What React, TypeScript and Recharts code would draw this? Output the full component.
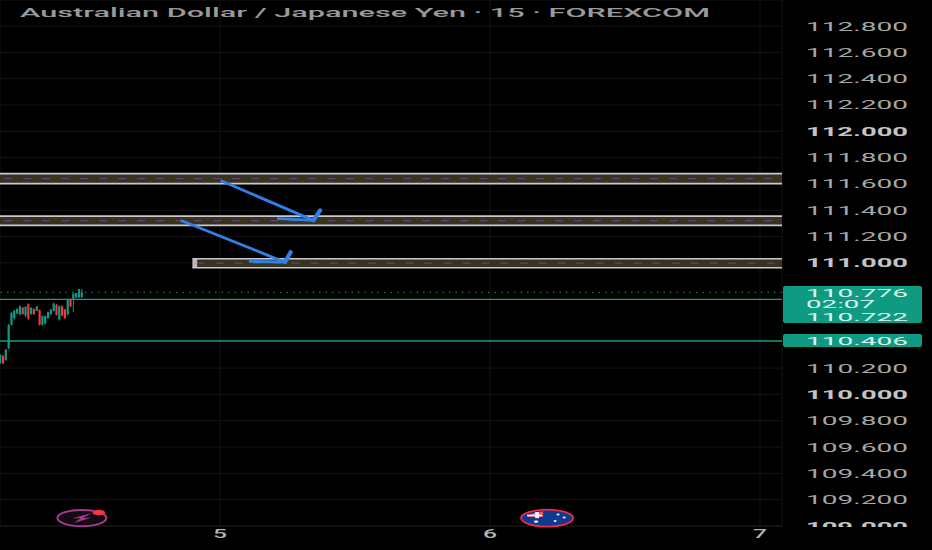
import {
  Bar,
  CartesianGrid,
  ComposedChart,
  ReferenceArea,
  ReferenceDot,
  ReferenceLine,
  XAxis,
  YAxis,
} from "recharts";

// 15 min bars, one day = 96 bars, bar 96 = start of day 5
const barIndex = [18, 19, 20, 21, 22, 23, 24, 25, 26, 27, 28, 29, 30, 31, 32, 33, 34, 35, 36, 37, 38, 39, 40, 41, 42, 43, 44, 45, 46, 47];
const opens = [110.24, 110.295, 110.26, 110.35, 110.53, 110.58, 110.615, 110.61, 110.66, 110.6, 110.685, 110.61, 110.65, 110.635, 110.64, 110.53, 110.54, 110.58, 110.61, 110.635, 110.68, 110.57, 110.67, 110.645, 110.61, 110.725, 110.728, 110.738, 110.738, 110.74];
const closes = [110.3, 110.235, 110.34, 110.53, 110.62, 110.635, 110.65, 110.67, 110.61, 110.665, 110.575, 110.66, 110.61, 110.668, 110.53, 110.595, 110.595, 110.625, 110.645, 110.69, 110.605, 110.67, 110.6, 110.58, 110.72, 110.67, 110.766, 110.77, 110.8, 110.776];
const highs = [110.308, 110.298, 110.346, 110.536, 110.625, 110.643, 110.655, 110.676, 110.663, 110.671, 110.693, 110.663, 110.653, 110.671, 110.645, 110.6, 110.6, 110.63, 110.65, 110.696, 110.688, 110.676, 110.676, 110.65, 110.726, 110.731, 110.769, 110.772, 110.802, 110.802];
const lows = [110.232, 110.232, 110.257, 110.346, 110.523, 110.569, 110.612, 110.6, 110.607, 110.587, 110.567, 110.607, 110.607, 110.632, 110.523, 110.523, 110.531, 110.574, 110.607, 110.63, 110.6, 110.561, 110.592, 110.572, 110.6, 110.663, 110.625, 110.734, 110.734, 110.734];

// 110.400, 110.600 and 110.800 sit behind the price tags
const priceTicks = [109, 109.2, 109.4, 109.6, 109.8, 110, 110.2, 111, 111.2, 111.4, 111.6, 111.8, 112, 112.2, 112.4, 112.6, 112.8];
const dayTicks = [96, 192, 288];
const dayLabels = ["5", "6", "7"];

const zoneTops = [111.678, 111.355, 111.031];
const zoneBottoms = [111.602, 111.285, 110.963];
const zoneMids = [111.64, 111.32, 110.998];
const zoneStarts = [17.78, 17.78, 86.2];

// arrow strokes: [from bar, from price, to bar, to price]
const arrowSegments = [
  [96.6, 111.622, 129.2, 111.323],
  [116.7, 111.336, 129.2, 111.323],
  [129.2, 111.323, 131.6, 111.399],
  [82.4, 111.32, 119.1, 111.005],
  [106.7, 111.011, 119.1, 111.005],
  [119.1, 111.005, 121.1, 111.081],
];

const lastPrice = 110.776;
const levelPrices = [110.722, 110.406];

const rows = barIndex.map((bar, i) => ({
  bar,
  open: opens[i],
  close: closes[i],
  high: highs[i],
  low: lows[i],
  range: [lows[i], highs[i]],
}));

const GREEN = "#0f9b82";
const RED = "#f23645";
const WIDE = "Roboto, sans-serif";
const xMin = 17.78;
const xMax = 295.82;

function Candle(props: any) {
  const { x, y, width, height, payload } = props;
  const { open, close, high, low } = payload;
  const perUnit = height / (high - low);
  const top = y + (high - Math.max(open, close)) * perUnit;
  const bodyH = Math.max(1, Math.abs(open - close) * perUnit);
  const color = close >= open ? GREEN : RED;
  const mid = x + width / 2;
  return (
    <g>
      <rect x={mid - 0.5} y={y} width={1} height={height} fill={color} />
      <rect x={mid - 1.1} y={top} width={2.2} height={bodyH} fill={color} />
    </g>
  );
}

function PriceTick(props: any) {
  const { y, payload } = props;
  const major = Number.isInteger(payload.value);
  return (
    <text
      x={857}
      y={y + 4.5}
      textAnchor="middle"
      textLength={102}
      lengthAdjust="spacingAndGlyphs"
      fontFamily={WIDE}
      fontSize={13}
      fontWeight={major ? 700 : 400}
      fill={major ? "#c4c4c4" : "#a6a6a6"}
      clipPath="url(#axisClip)"
    >
      {payload.value.toFixed(3)}
    </text>
  );
}

function DayTick(props: any) {
  const { x, y, payload } = props;
  return (
    <text
      x={x}
      y={y + 4}
      textAnchor="middle"
      textLength={14}
      lengthAdjust="spacingAndGlyphs"
      fontFamily={WIDE}
      fontSize={12}
      fontWeight={500}
      fill="#b4b4b4"
    >
      {dayLabels[dayTicks.indexOf(payload.value)]}
    </text>
  );
}

function TagText({ y, children, wide = 102, size = 11 }: any) {
  return (
    <text
      x={806}
      y={y}
      textLength={wide}
      lengthAdjust="spacingAndGlyphs"
      fontFamily={WIDE}
      fontSize={size}
      fill="#dff3ee"
    >
      {children}
    </text>
  );
}

function LastTag() {
  return (
    <g>
      <rect x={783} y={286} width={139} height={37} rx={2} fill={GREEN} />
      <TagText y={296.5}>110.776</TagText>
      <TagText y={307.5} wide={69} size={10}>02:07</TagText>
      <TagText y={321}>110.722</TagText>
    </g>
  );
}

function LevelTag() {
  return (
    <g>
      <rect x={783} y={334} width={139} height={13} rx={2} fill={GREEN} />
      <TagText y={344.5}>110.406</TagText>
    </g>
  );
}

function BoltIcon(props: any) {
  const { cx, cy } = props;
  return (
    <g>
      <ellipse cx={cx} cy={cy} rx={24.5} ry={8.2} fill="#140a14" stroke="#a83a8c" strokeWidth={2} />
      <path
        d={`M${cx + 10} ${cy - 5} L${cx - 10} ${cy + 0.5} L${cx - 1} ${cy} L${cx - 8} ${cy + 5} L${cx + 10} ${cy - 0.5} L${cx + 1} ${cy} Z`}
        fill="#a83a8c"
      />
      <ellipse cx={cx + 17} cy={cy - 5.5} rx={6.5} ry={2.8} fill={RED} />
    </g>
  );
}

function FlagIcon(props: any) {
  const { cx, cy } = props;
  return (
    <g>
      <ellipse cx={cx} cy={cy} rx={26} ry={8.5} fill="#0d3a8f" stroke="#f0284a" strokeWidth={1.8} />
      <path
        d={`M${cx - 20} ${cy - 1} Q${cx - 16} ${cy - 6} ${cx - 4} ${cy - 6.5} L${cx - 4} ${cy - 1} Z`}
        fill="#d9566c"
      />
      <rect x={cx - 12} y={cy - 6} width={4} height={6} fill="#f4f4f4" />
      <rect x={cx - 20} y={cy - 3.5} width={15} height={1.6} fill="#f4f4f4" />
      <ellipse cx={cx - 11} cy={cy + 3.5} rx={2.2} ry={1.2} fill="#ffffff" />
      <ellipse cx={cx + 8} cy={cy + 3} rx={1.6} ry={1} fill="#dfe8ff" />
      <ellipse cx={cx + 11} cy={cy - 3.5} rx={1.6} ry={1} fill="#dfe8ff" />
      <ellipse cx={cx + 17} cy={cy - 0.5} rx={1.6} ry={1} fill="#dfe8ff" />
    </g>
  );
}

export default function App() {
  return (
    <div style={{ position: "absolute", left: 0, top: 0, width: 932, height: 550, background: "#000" }}>
      <ComposedChart
        width={932}
        height={550}
        data={rows}
        margin={{ top: 0, right: 0, bottom: 0, left: 0 }}
      >
        <defs>
          <clipPath id="axisClip">
            <rect x={782} y={0} width={150} height={527} />
          </clipPath>
        </defs>
        <CartesianGrid stroke="#141414" />
        <XAxis
          dataKey="bar"
          type="number"
          domain={[xMin, xMax]}
          allowDataOverflow
          ticks={dayTicks}
          tick={<DayTick />}
          tickLine={false}
          axisLine={{ stroke: "#1c1c1c" }}
          height={24}
        />
        <YAxis
          orientation="right"
          type="number"
          domain={[109, 112.9976]}
          allowDataOverflow
          ticks={priceTicks}
          tick={<PriceTick />}
          tickLine={false}
          axisLine={false}
          interval={0}
          width={150}
        />

        {zoneTops.map((top, i) => (
          <ReferenceArea
            key={`zone${i}`}
            x1={zoneStarts[i]}
            x2={xMax}
            y1={zoneBottoms[i]}
            y2={top}
            fill="#38331f"
            fillOpacity={1}
            stroke="none"
          />
        ))}
        {zoneTops.map((top, i) => (
          <ReferenceLine
            key={`top${i}`}
            segment={[{ x: zoneStarts[i], y: top }, { x: xMax, y: top }]}
            stroke="#c9c9c9"
            strokeWidth={1.6}
          />
        ))}
        {zoneBottoms.map((bottom, i) => (
          <ReferenceLine
            key={`bottom${i}`}
            segment={[{ x: zoneStarts[i], y: bottom }, { x: xMax, y: bottom }]}
            stroke="#c9c9c9"
            strokeWidth={1.6}
          />
        ))}
        {zoneMids.map((mid, i) => (
          <ReferenceLine
            key={`mid${i}`}
            segment={[{ x: zoneStarts[i] + 1.5, y: mid }, { x: xMax, y: mid }]}
            stroke="#74408f"
            strokeWidth={1}
            strokeDasharray="8 11"
          />
        ))}
        <ReferenceArea x1={86.2} x2={87.9} y1={110.963} y2={111.031} fill="#b9b9b9" fillOpacity={1} stroke="none" />

        <ReferenceLine y={lastPrice} stroke={GREEN} strokeWidth={1} strokeDasharray="1.5 5" label={<LastTag />} />
        <ReferenceLine y={levelPrices[0]} stroke="#1b9c88" strokeWidth={1.4} />
        <ReferenceLine y={levelPrices[1]} stroke="#1b9c88" strokeWidth={1.4} label={<LevelTag />} />

        {arrowSegments.map(([x1, y1, x2, y2], i) => (
          <ReferenceLine
            key={`arrow${i}`}
            segment={[{ x: x1, y: y1 }, { x: x2, y: y2 }]}
            stroke="#2f80ea"
            strokeWidth={i % 3 === 2 ? 4.2 : 2.8}
            strokeLinecap="round"
          />
        ))}

        <Bar dataKey="range" barSize={2} shape={<Candle />} isAnimationActive={false} />

        <ReferenceDot x={46.9} y={109.06} r={1} shape={<BoltIcon />} />
        <ReferenceDot x={212.3} y={109.06} r={1} shape={<FlagIcon />} />

        <text
          x={20}
          y={17}
          textLength={690}
          lengthAdjust="spacingAndGlyphs"
          fontFamily={WIDE}
          fontSize={13}
          fontWeight={500}
          fill="#9a9a9a"
        >
          Australian Dollar / Japanese Yen · 15 · FOREXCOM
        </text>
      </ComposedChart>
    </div>
  );
}
